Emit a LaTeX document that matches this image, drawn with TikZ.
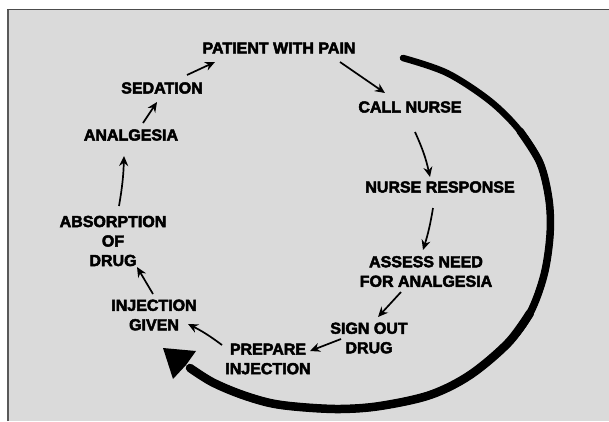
\documentclass[tikz,border=0pt]{standalone}
\usepackage{fontspec}
\setmainfont{Liberation Sans}
\newfontfamily\heavy{Liberation Sans}[BoldFeatures={FakeBold=3}]
\usetikzlibrary{arrows.meta,calc}
\definecolor{bgc}{RGB}{218,218,218}
\begin{document}
\begin{tikzpicture}[x=1pt,y=-1pt,
  lbl/.style={font=\heavy\bfseries\fontsize{16}{19.5}\selectfont, align=center, inner sep=0pt, text=black},
  conn/.style={line width=1.7pt, -{Stealth[length=10pt,width=9pt]}},
  bigarc/.style={line width=#1, line cap=round, black}
]
\useasboundingbox (0,0) rectangle (609,421);
\fill[white] (0,0) rectangle (609,421);
\fill[bgc] (8,9.5) rectangle (609,421);
\draw[black!65, line width=2pt] (8,421) -- (8,9.5);
\draw[black!70, line width=0.8pt] (7,9.5) -- (609,9.5);

% labels
\node[lbl] (pat)    at (279,48)    {PATIENT WITH PAIN};
\node[lbl] (call)   at (410,107)   {CALL NURSE};
\node[lbl] (resp)   at (440,187)   {NURSE RESPONSE};
\node[lbl] (assess) at (426,271.5) {ASSESS NEED\\FOR ANALGESIA};
\node[lbl] (sign)   at (369,338)   {SIGN OUT\\DRUG};
\node[lbl] (prep)   at (268,359)   {PREPARE\\INJECTION};
\node[lbl] (inj)    at (154,315)   {INJECTION\\GIVEN};
\node[lbl] (abs)    at (113,241)   {ABSORPTION\\OF\\DRUG};
\node[lbl] (anal)   at (131,135)   {ANALGESIA};
\node[lbl] (sed)    at (162,88)    {SEDATION};

% small connectors
\draw[conn] ($(pat)+(61,14)$)     -- ($(call)+(-25,-14)$);
\draw[conn] ($(call)+(5,25)$)     to[bend left=6] ($(resp)+(-10,-10)$);
\draw[conn] ($(resp)+(-7,21)$)    to[bend left=4] ($(assess)+(-3,-21.5)$);
\draw[conn] ($(assess)+(-25,20.5)$) -- ($(sign)+(9,-21)$);
\draw[conn] ($(sign)+(-28,1)$)    -- ($(prep)+(42,-8)$);
\draw[conn] ($(prep)+(-46,-14)$)  to[bend right=5] ($(inj)+(34,9)$);
\draw[conn] ($(inj)+(-1,-21)$)    -- ($(abs)+(24,26)$);
\draw[conn] ($(abs)+(6,-35)$)     to[bend right=4] ($(anal)+(-7,21)$);
\draw[conn] ($(anal)+(12,-12)$)   -- ($(sed)+(-5,14)$);
\draw[conn] ($(sed)+(25,-13)$)    -- ($(pat)+(-64,14)$);

% big return arc (tapering: thin at start, thicker towards the head)
\draw[bigarc=6.5pt] plot[smooth, tension=0.55] coordinates {(403,58) (447,73) (490,101) (520,131) (540,163) (549,200) (550,235) (544,275) (530,313) (508,343) (470,375) (430,395) (380,406) (340,409) (300,407) (270,403) (240,394) (212,382) (190,368)};
\draw[bigarc=7.5pt] plot[smooth, tension=0.55] coordinates {(520,131) (540,163) (549,200) (550,235) (544,275) (530,313) (508,343) (470,375) (430,395) (380,406) (340,409) (300,407) (270,403) (240,394) (212,382) (190,368)};
\draw[bigarc=8.5pt] plot[smooth, tension=0.55] coordinates {(530,313) (508,343) (470,375) (430,395) (380,406) (340,409) (300,407) (270,403) (240,394) (212,382) (190,368)};
\fill (163,348) -- (196,351) -- (186,365) -- (173,379) -- cycle;
\end{tikzpicture}
\end{document}
